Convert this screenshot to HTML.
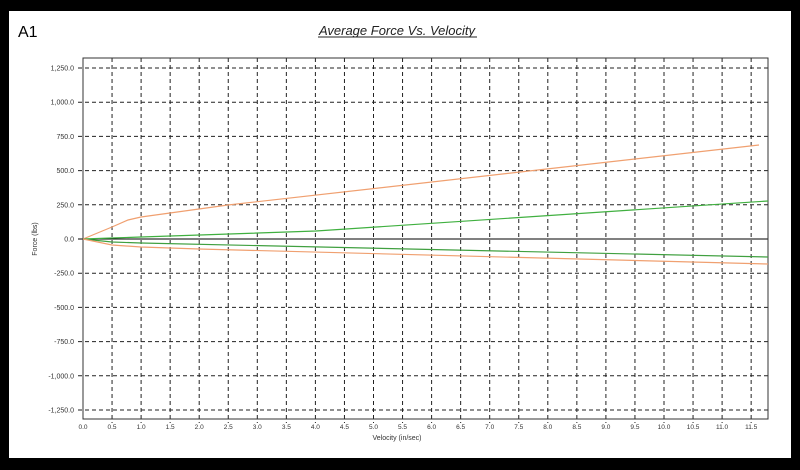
<!DOCTYPE html>
<html><head><meta charset="utf-8"><style>
html,body{margin:0;padding:0;background:#000;}
svg{display:block;}
text{font-family:"Liberation Sans",Arial,sans-serif;}
</style></head><body>
<svg width="800" height="470" viewBox="0 0 800 470" xmlns="http://www.w3.org/2000/svg">
<rect x="0" y="0" width="800" height="470" fill="#000"/>
<rect x="9" y="11" width="782" height="447" fill="#fff"/>
<text x="18" y="37" font-size="16" fill="#000">A1</text>
<text x="397" y="35" font-size="13" font-style="italic" text-anchor="middle" fill="#222">Average Force Vs. Velocity</text>
<line x1="318" y1="37" x2="477" y2="37" stroke="#222" stroke-width="1"/>
<g stroke="#222" stroke-width="1" stroke-dasharray="4,3">
<line x1="78" y1="68" x2="768" y2="68"/><line x1="78" y1="102.2" x2="768" y2="102.2"/>
<line x1="78" y1="136.4" x2="768" y2="136.4"/><line x1="78" y1="170.6" x2="768" y2="170.6"/>
<line x1="78" y1="204.8" x2="768" y2="204.8"/>
<line x1="78" y1="273.2" x2="768" y2="273.2"/><line x1="78" y1="307.4" x2="768" y2="307.4"/>
<line x1="78" y1="341.6" x2="768" y2="341.6"/><line x1="78" y1="375.8" x2="768" y2="375.8"/>
<line x1="78" y1="410" x2="768" y2="410"/>
</g>
<g stroke="#222" stroke-width="1" stroke-dasharray="4,3" id="vg"></g>
<line x1="78" y1="239" x2="768" y2="239" stroke="#000" stroke-width="1"/>
<rect x="83" y="58" width="685" height="361" fill="none" stroke="#333" stroke-width="1"/>
<g font-size="7" fill="#333" text-anchor="end" id="yl">
<text x="74" y="70.5">1,250.0</text><text x="74" y="104.7">1,000.0</text>
<text x="74" y="138.9">750.0</text><text x="74" y="173.1">500.0</text>
<text x="74" y="207.3">250.0</text><text x="74" y="241.5">0.0</text>
<text x="74" y="275.7">-250.0</text><text x="74" y="309.9">-500.0</text>
<text x="74" y="344.1">-750.0</text><text x="74" y="378.3">-1,000.0</text>
<text x="74" y="412.5">-1,250.0</text>
</g>
<g font-size="6.5" fill="#333" text-anchor="middle" id="xl"></g>
<text x="397" y="440" font-size="7" fill="#333" text-anchor="middle">Velocity (in/sec)</text>
<text transform="translate(37,239) rotate(-90)" font-size="7" fill="#333" text-anchor="middle">Force (lbs)</text>
<polyline fill="none" stroke="#f0a070" stroke-width="1.2" points="83,239 112,227 128,220 141,217 228,205 759,145"/>
<polyline fill="none" stroke="#40b040" stroke-width="1.2" points="83,239 112,238 141,237 316,231 768,201"/>
<polyline fill="none" stroke="#40a040" stroke-width="1.2" points="83,239 112,242 141,243 768,257"/>
<polyline fill="none" stroke="#f0a070" stroke-width="1.2" points="83,239 112,245 141,247 199,249 768,264"/>
<script>
var vg=document.getElementById('vg'),xl=document.getElementById('xl'),ns='http://www.w3.org/2000/svg';
for(var i=0;i<=23;i++){var x=83+i*29.05;
if(i>0){var l=document.createElementNS(ns,'line');l.setAttribute('x1',x);l.setAttribute('x2',x);l.setAttribute('y1',58);l.setAttribute('y2',423);vg.appendChild(l);}
var t=document.createElementNS(ns,'text');t.setAttribute('x',x);t.setAttribute('y',429);t.textContent=(i*0.5).toFixed(1);xl.appendChild(t);}
</script>
</svg>
</body></html>
